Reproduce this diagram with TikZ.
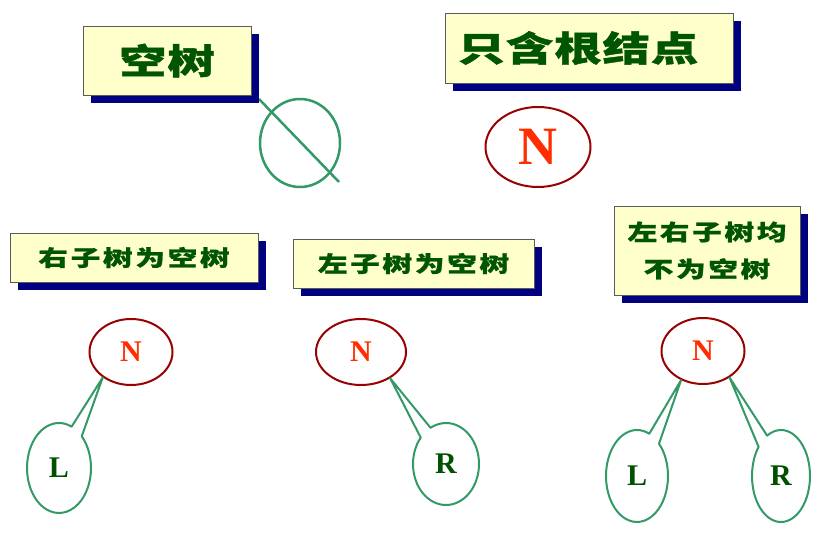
\documentclass[tikz,border=0pt]{standalone}
\usepackage{fontspec}
\setmainfont{Liberation Serif}
\newfontfamily\cjkbig[FakeStretch=1.35,LetterSpace=3,FakeBold=1.2]{Noto Sans CJK SC}
\newfontfamily\cjksmall[FakeStretch=1.35,LetterSpace=12,FakeBold=1]{Noto Sans CJK SC}
\usetikzlibrary{shapes.geometric,shapes.callouts,shadows}
\definecolor{boxfill}{RGB}{255,255,204}
\definecolor{boxgray}{RGB}{90,90,90}
\definecolor{navyshadow}{RGB}{0,0,128}
\definecolor{textgreen}{RGB}{0,85,0}
\definecolor{lgreen}{RGB}{51,153,102}
\definecolor{rootred}{RGB}{153,0,0}
\definecolor{nred}{RGB}{255,45,0}
\definecolor{lettergreen}{RGB}{0,80,0}
\begin{document}
\begin{tikzpicture}[x=1pt,y=-1pt,
  titlebox/.style={rectangle, draw=boxgray, line width=0.8pt, fill=boxfill,
    general shadow={fill=navyshadow, shadow xshift=8pt, shadow yshift=-8pt},
    inner sep=0pt, text=textgreen, align=center},
  bigcjk/.style={font=\cjkbig\bfseries\fontsize{35}{35}\selectfont},
  smallcjk/.style={font=\cjksmall\bfseries\fontsize{22}{37}\selectfont},
  root/.style={ellipse, draw=rootred, line width=2pt, inner sep=0pt, text=nred,
    minimum width=83pt, minimum height=66pt, font=\bfseries\fontsize{30}{30}\selectfont},
  child/.style={ellipse callout, draw=lgreen, line width=2pt, line join=round, inner sep=0pt,
    callout pointer arc=22, text=lettergreen, font=\bfseries\fontsize{30}{30}\selectfont}]
\useasboundingbox (0,0) rectangle (821,545);

% empty tree
\coordinate (s1) at (259,99);
\coordinate (s2) at (339,182);
\node[ellipse, draw=lgreen, line width=2.5pt, minimum width=80pt, minimum height=88pt] (e0) at (300,143) {};
\draw[lgreen, line width=2.5pt] (s1) -- (s2);
\node[titlebox, bigcjk, minimum width=168pt, minimum height=69pt] (t1) at (167,60.5) {空树};

% root only
\node[titlebox, bigcjk, minimum width=288pt, minimum height=70pt] (t2) at (589,48) {只含根结点\hspace{22pt}};
\node[root, minimum width=105pt, minimum height=80pt, font=\bfseries\fontsize{54}{54}\selectfont] (n0) at (538,147) {N};

% right subtree empty
\node[titlebox, smallcjk, minimum width=248pt, minimum height=49pt] (t3) at (134,257.5) {右子树为空树};
\node[root] (n1) at (131,352) {N};
\node[child, minimum width=64pt, minimum height=90pt, callout absolute pointer={(n1.222)}] (l1) at (59,468) {L};

% left subtree empty
\node[titlebox, smallcjk, minimum width=241pt, minimum height=49pt] (t4) at (413.5,263.5) {左子树为空树};
\node[root, minimum width=90pt] (n2) at (361,352) {N};
\node[child, minimum width=66pt, minimum height=82pt, callout absolute pointer={(n2.318)}] (r2) at (446,464) {R};

% both non-empty
\node[titlebox, smallcjk, minimum width=186pt, minimum height=89pt] (t5) at (707,250.5) {左右子树均\\不为空树};
\node[root] (n3) at (703,351) {N};
\node[child, minimum width=62pt, minimum height=92pt, callout absolute pointer={(n3.233)}] (l3) at (637,476) {L};
\node[child, minimum width=58pt, minimum height=92pt, callout absolute pointer={(n3.315)}] (r3) at (781,476) {R};
\end{tikzpicture}
\end{document}
